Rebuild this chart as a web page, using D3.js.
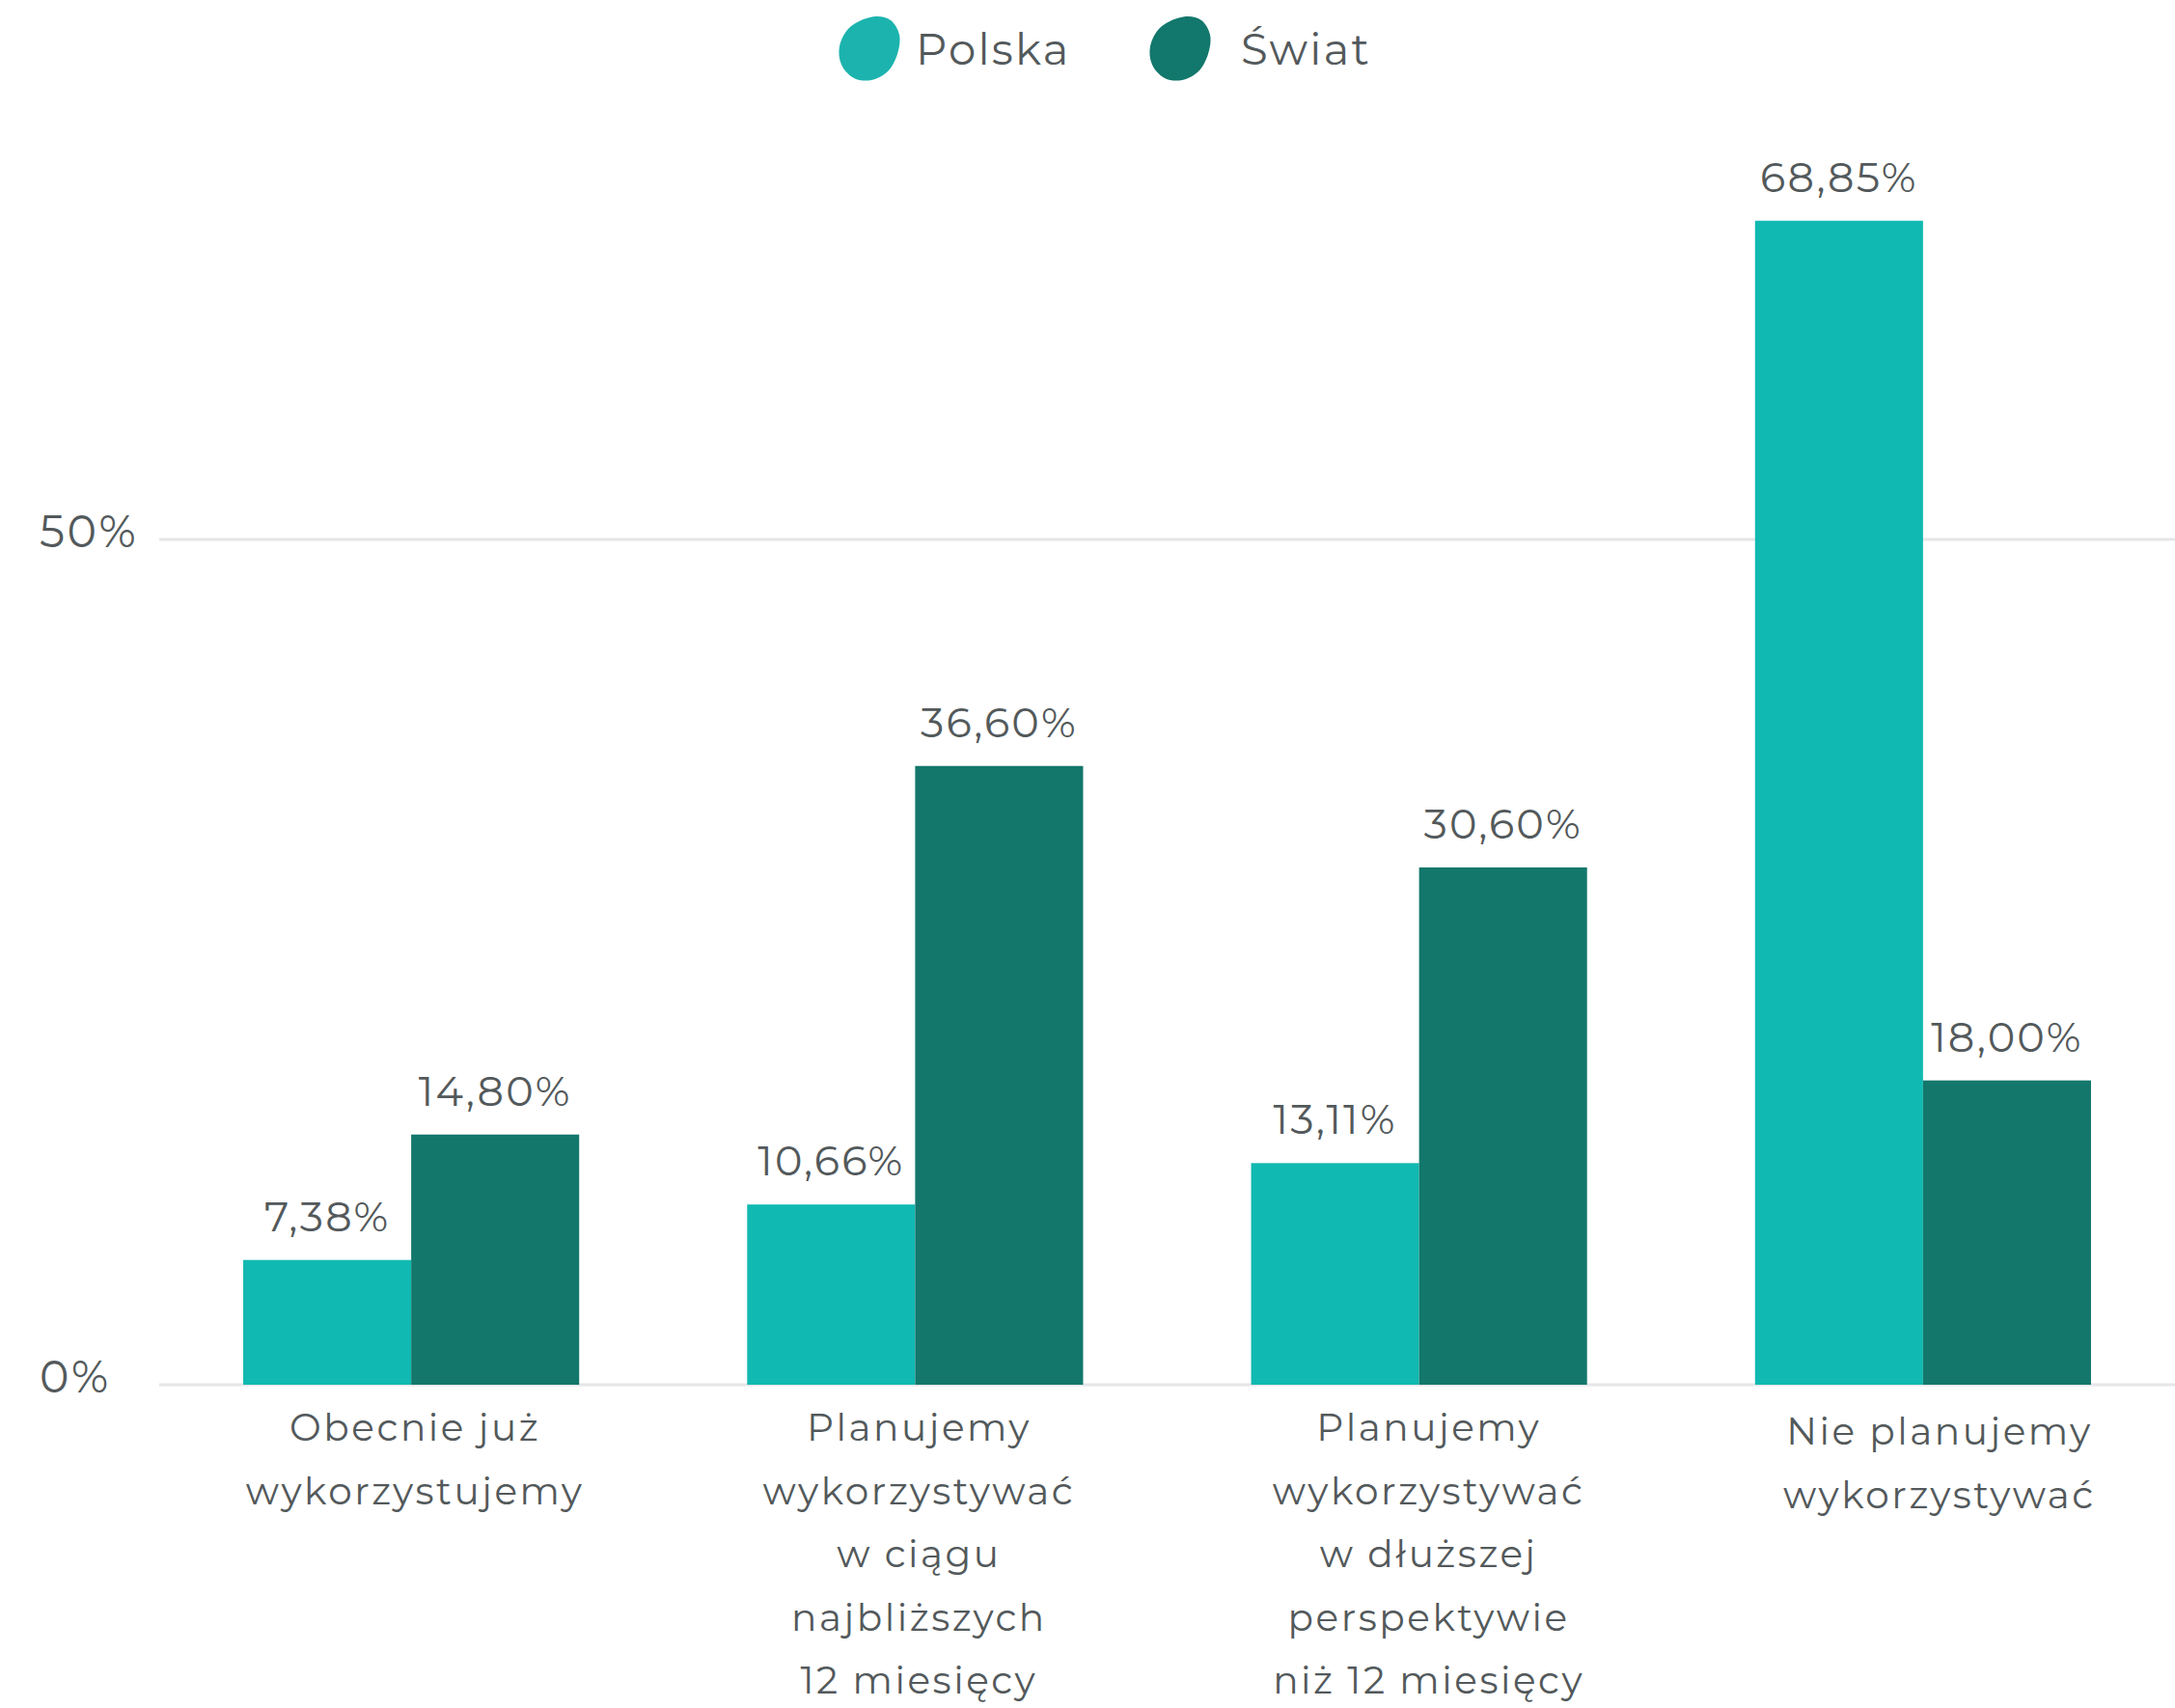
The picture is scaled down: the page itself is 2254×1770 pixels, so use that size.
<!DOCTYPE html>
<html>
<head>
<meta charset="utf-8">
<script src="https://cdn.jsdelivr.net/npm/d3@7"></script>
<style>
  html, body { margin: 0; padding: 0; background: #ffffff; }
  svg { display: block; }
  text { font-family: Montserrat, Inter, "Open Sans", sans-serif; fill: #53595b; }
</style>
</head>
<body>
<script>
// ---- data ----
const categories = [
  ["Obecnie już", "wykorzystujemy"],
  ["Planujemy", "wykorzystywać", "w ciągu", "najbliższych", "12 miesięcy"],
  ["Planujemy", "wykorzystywać", "w dłuższej", "perspektywie", "niż 12 miesięcy"],
  ["Nie planujemy", "wykorzystywać"]
];
const seriesNames = ["Polska", "Świat"];
const polska = [7.38, 10.66, 13.11, 68.85];
const swiat = [14.80, 36.60, 30.60, 18.00];
const yTicks = [0, 50];
const yTickLabels = ["0%", "50%"];

// ---- layout ----
const W = 2254, H = 1770;
const colors = ["#10b9b1", "#13776c"];
const legendColors = ["#1cb3ae", "#12776c"];
const labelShift = [4, 4, 10, 17];   // horizontal nudge of category labels
const labelTop = [1493, 1493, 1493, 1497];

const svg = d3.select("body").append("svg").attr("width", W).attr("height", H);

const x0 = d3.scaleBand().domain(d3.range(categories.length))
  .range([165, W]).paddingInner(1/3).paddingOuter(1/6);
const x1 = d3.scaleBand().domain(d3.range(seriesNames.length))
  .range([0, x0.bandwidth()]);
const y = d3.scaleLinear().domain([0, 80]).range([1435, 1435 - 80 * 17.52]);

// gridlines
svg.append("g").selectAll("line").data(yTicks).join("line")
  .attr("x1", 165).attr("x2", W)
  .attr("y1", d => y(d)).attr("y2", d => y(d))
  .attr("stroke", "#e5e6e8").attr("stroke-width", 3);

// y tick labels
svg.append("g").selectAll("text").data(yTicks).join("text")
  .attr("x", 41).attr("y", d => y(d) + 8)
  .attr("font-size", 46).attr("letter-spacing", "0.055em")
  .text((d, i) => yTickLabels[i]);

// bars
const data = [polska, swiat];
const fmt = v => v.toFixed(2).replace(".", ",") + "%";
const groups = svg.append("g").selectAll("g").data(categories).join("g")
  .attr("transform", (d, i) => `translate(${x0(i)},0)`);

groups.each(function(c, i) {
  const g = d3.select(this);
  seriesNames.forEach((s, k) => {
    const v = data[k][i];
    g.append("rect")
      .attr("x", x1(k)).attr("width", x1.bandwidth())
      .attr("y", y(v)).attr("height", y(0) - y(v))
      .attr("fill", colors[k]);
    g.append("text")
      .attr("x", x1(k) + x1.bandwidth() / 2).attr("y", y(v) - 30)
      .attr("text-anchor", "middle").attr("font-size", 43)
      .attr("letter-spacing", "0.05em")
      .text(fmt(v));
  });
  const t = g.append("text").attr("text-anchor", "middle").attr("font-size", 39)
    .attr("letter-spacing", "0.065em");
  c.forEach((line, j) => {
    t.append("tspan").attr("x", x0.bandwidth() / 2 + labelShift[i])
      .attr("y", labelTop[i] + j * 65.5).text(line);
  });
});

// legend
const blob = d3.line().curve(d3.curveCatmullRomClosed);
const blobPts = [[6,-33],[22,-29],[31,-14],[29,6],[19,24],[2,33],[-16,31],[-29,17],[-31,-2],[-20,-22]];
const legendItems = [
  {name: seriesNames[0], cx: 901, tx: 949},
  {name: seriesNames[1], cx: 1223, tx: 1286}
];
const lg = svg.append("g");
legendItems.forEach((it, k) => {
  lg.append("path").attr("d", blob(blobPts))
    .attr("transform", `translate(${it.cx},50)`)
    .attr("fill", legendColors[k]);
  lg.append("text").attr("x", it.tx).attr("y", 67)
    .attr("font-size", 45).attr("letter-spacing", "0.05em").text(it.name);
});
</script>
</body>
</html>
